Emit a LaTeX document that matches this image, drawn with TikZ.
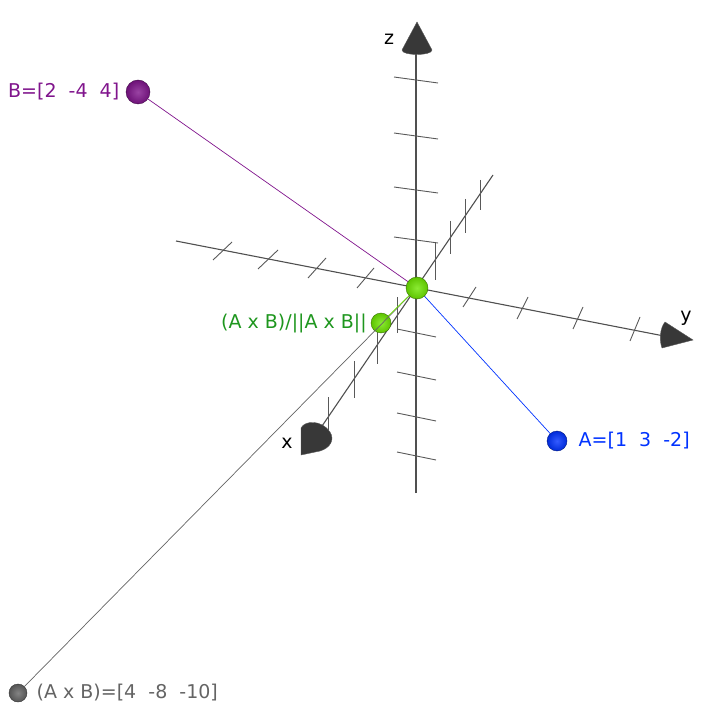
\documentclass[tikz,border=0pt]{standalone}
\usepackage{fontspec}
\setmainfont{DejaVu Sans}
\usetikzlibrary{positioning}

\definecolor{bpurple}{RGB}{128,20,140}
\definecolor{ablue}{RGB}{0,50,255}
\definecolor{ugreen}{RGB}{110,230,0}
\definecolor{ltext}{RGB}{30,150,30}
\definecolor{cgray}{RGB}{100,100,100}
\definecolor{axgray}{RGB}{80,80,80}

\tikzset{
  axisline/.style={axgray,line width=1.1pt},
  tickline/.style={black!65,line width=0.9pt},
  ball/.style={shape=circle,inner sep=0pt,minimum size=#1,line width=0.4pt},
  ballfill/.style={shading=radial,inner color=#1!80!white,outer color=#1!85!black,draw=#1!50!black},
  lbl/.style={font=\fontsize{19}{22}\selectfont},
  cone/.style={fill=black!78,draw=black!65,line width=0.4pt}
}

\begin{document}
\begin{tikzpicture}
[x=1pt,y=-1pt]
\useasboundingbox (0,0) rectangle (717,711);
%% axes
\coordinate (ztop) at (416,50);
\coordinate (zbot) at (416,493);
\coordinate (yleft) at (176,241);
\coordinate (yright) at (664,336);
\coordinate (xtop) at (493,175);
\coordinate (xbot) at (320,429);
\draw[axisline] (zbot) -- (ztop);
\draw[axisline] (yleft) -- (yright);
\draw[axisline] (xtop) -- (xbot);
%% ticks
\foreach \ty in {80,136,190,240}
  \draw[tickline] (394,\ty-3) -- (438,\ty+3);
\foreach \ty in {333,376,417,456}
  \draw[tickline] (397,\ty-4) -- (436,\ty+4);
\foreach \ax/\ay/\bx/\by in {213/260/232/242, 258/269/278/250,
  308/278/326/258, 357/288/374/268, 463/307/476/287,
  517/319/528/297, 573/329/583/307, 630/341/640/317}
  \draw[tickline] (\ax,\ay) -- (\bx,\by);
\foreach \tx/\ta/\tb in {480/180/210, 465/199/233, 450/221/254,
  435/243/280, 397/297/333, 377/331/364, 354/361/398, 328/397/431}
  \draw[tickline] (\tx,\ta) -- (\tx,\tb);
%% arrow cones
\filldraw[cone] (402,50) -- (417,22) -- (432,50)
  .. controls (432,56) and (402,56) .. (402,50) -- cycle;
\filldraw[cone] (665,322) -- (693,340) -- (662,348)
  .. controls (659,340) and (660,328) .. (665,322) -- cycle;
\filldraw[cone] (301,455) -- (301,428)
  .. controls (305,420) and (322,420) .. (330,432)
  .. controls (335,440) and (330,448) .. (320,451) -- cycle;
\node[lbl,inner sep=0pt] (zlabel) at (389,39) {z};
\node[lbl,inner sep=0pt] (ylabel) at (686,318) {y};
\node[lbl,inner sep=0pt] (xlabel) at (287,443) {x};
%% points
\coordinate (O) at (417,288);
\node[ball=20pt,ballfill=ugreen] (U) at (381,323) {};
\node[ball=20pt,ballfill=ablue] (A) at (557,441) {};
\node[ball=24pt,ballfill=bpurple] (B) at (138,92) {};
\node[ball=18pt,ballfill=cgray] (C) at (18,693) {};
\path
\foreach \endNode/\col in {C/cgray, B/bpurple, A/ablue, U/ugreen}
{
  (O) edge[\col,line width=0.7pt] (\endNode)
};
\node[ball=22pt,ballfill=ugreen] (Ob) at (O) {};
%% labels
\node[lbl,text=bpurple,left=3pt of B] (Blabel) {B=[2\ \ -4\ \ 4]};
\node[lbl,text=ablue,right=8pt of A] (Alabel) {A=[1\ \ 3\ \ -2]};
\node[lbl,text=ltext,left=0.5pt of U] (Ulabel) {(A x B)/||A x B||};
\node[lbl,text=cgray,right=6pt of C] (Clabel) {(A x B)=[4\ \ -8\ \ -10]};
\end{tikzpicture}
\end{document}
